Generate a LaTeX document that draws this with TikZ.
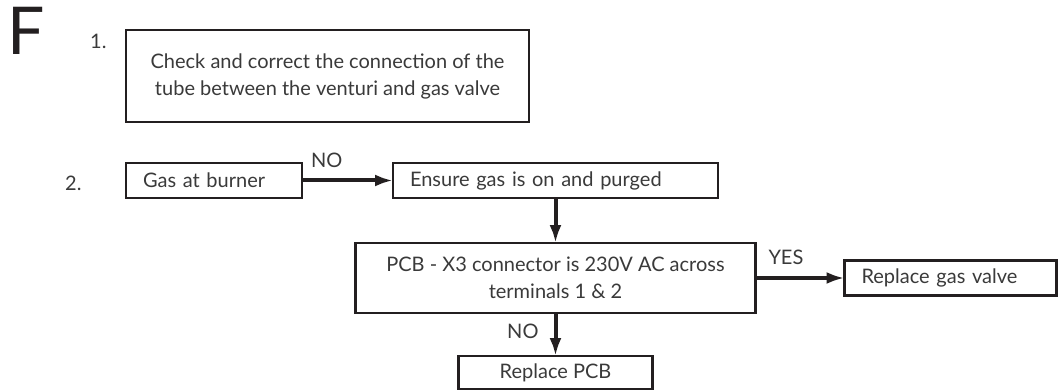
\documentclass[tikz,border=0pt]{standalone}
\usepackage{fontspec}
\setmainfont{Lato}
\usepackage{xcolor}
\usepackage{tikz}
\usetikzlibrary{arrows.meta,positioning}
\definecolor{FlowInk}{HTML}{231F20}
\definecolor{FlowText}{HTML}{3A3A3A}

\begin{document}
\begin{tikzpicture}[
 x=1pt,y=-1pt,
 box/.style={draw=FlowInk,line width=2.6pt,fill=white,align=center,inner sep=0pt,outer sep=0pt,font=\fontsize{20}{27}\selectfont,text=FlowText},
 lbox/.style={box,align=left,inner xsep=17pt,text width=#1,minimum height=35pt},
 lbl/.style={font=\fontsize{20}{20}\selectfont,text=FlowText,inner sep=0pt},
 arrow/.style={-{Latex[length=18pt,width=12pt]},line width=4pt,draw=FlowInk}
]
\useasboundingbox (0,0) rectangle (1059,390);
\node[anchor=north west,inner sep=0pt,font=\fontsize{66}{66}\selectfont,text=FlowInk] (F) at (7,7) {F};
\node[lbl,anchor=south west] (n1) at (90,49) {1.};
\node[lbl,anchor=south west] (n2) at (65,191) {2.};
\node[box,minimum width=403pt,minimum height=92pt] (q1) at (327.5,76) {Check and correct the connection of the\\tube between the venturi and gas valve};
\node[lbox=142pt,anchor=north west] (gas) at (126,163) {Gas at burner};
\node[lbox=291pt,right=91pt of gas] (on) {Ensure gas is on and purged};
\node[box,minimum width=400pt,minimum height=70pt,below=45pt of on] (pcb) {PCB - X3 connector is 230V AC across\\terminals 1 \& 2};
\node[lbox=178pt,right=89pt of pcb] (gv) {Replace gas valve};
\node[box,minimum width=194pt,minimum height=33pt,below=43pt of pcb] (rp) {Replace PCB};
\draw[arrow] (gas) -- node[lbl,anchor=south west,pos=0,xshift=7pt,yshift=11pt] {NO} (on);
\draw[arrow] (on) -- (pcb);
\draw[arrow] (pcb) -- node[lbl,anchor=south west,pos=0,xshift=11pt,yshift=11pt] {YES} (gv);
\draw[arrow] (pcb) -- node[lbl,anchor=north east,pos=0,xshift=-15pt,yshift=-9pt] {NO} (rp);
\end{tikzpicture}
\end{document}
